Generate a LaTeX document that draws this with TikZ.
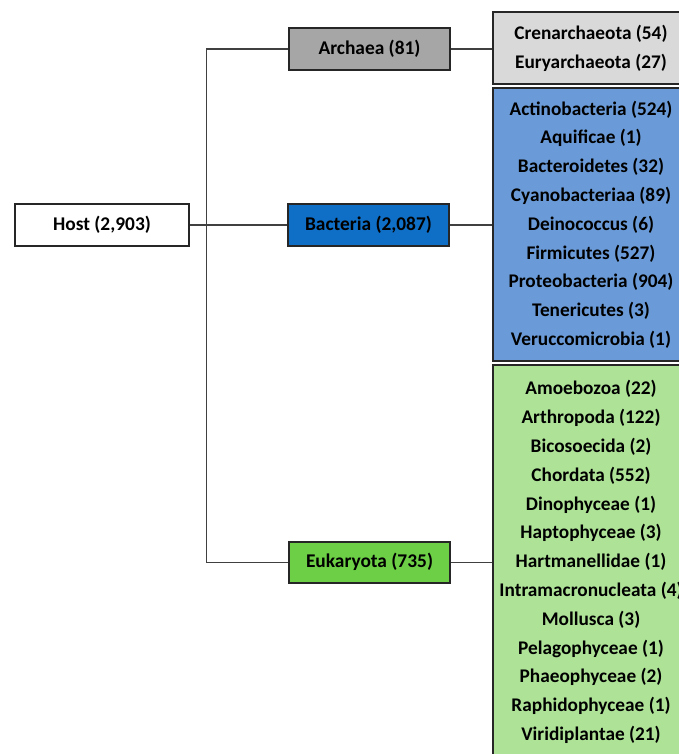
\documentclass[tikz,border=0pt]{standalone}
\usepackage{fontspec}
\setmainfont{Carlito}
\usetikzlibrary{positioning}
\definecolor{archgray}{HTML}{A6A6A6}
\definecolor{archlight}{HTML}{D9D9D9}
\definecolor{bactblue}{HTML}{0F6FC6}
\definecolor{bactlight}{HTML}{6A9BD8}
\definecolor{eukgreen}{HTML}{6CCF45}
\definecolor{euklight}{HTML}{AEE397}
\definecolor{edge}{HTML}{262626}
\tikzstyle{taxon} = [draw=edge, line width=2pt, minimum width=161pt, minimum height=41.5pt, inner sep=0pt, font=\bfseries\fontsize{19.4}{23}\selectfont]
\tikzstyle{phyla} = [draw=edge, line width=2pt, minimum width=195.4pt, inner sep=0pt, align=center, font=\bfseries\fontsize{19.3}{28.8}\selectfont]
\tikzstyle{link} = [draw=black!75, line width=1.5pt]

\begin{document}
\begin{tikzpicture}[x=1pt, y=-1pt]
    \useasboundingbox (0,0) rectangle (678,754);

    \node [taxon, fill=white, minimum width=174.7pt] (host) at (102,224.9) {Host (2,903)};
    \node [taxon, fill=archgray] (archaea) at (369.5,48.8) {Archaea (81)};
    \node [taxon, fill=bactblue] (bacteria) at (368.5,224.9) {Bacteria (2,087)};
    \node [taxon, fill=eukgreen] (eukaryota) at (369.5,562.3) {Eukaryota (735)};

    \node [phyla, fill=archlight, minimum height=72.6pt] (archlist) at (591,48) {
        Crenarchaeota (54)\\ Euryarchaeota (27)
    };
    \node [phyla, fill=bactlight, minimum height=272.4pt] (bactlist) at (591,224.5) {
        Actinobacteria (524)\\ Aquificae (1)\\ Bacteroidetes (32)\\
        Cyanobacteriaa (89)\\ Deinococcus (6)\\ Firmicutes (527)\\
        Proteobacteria (904)\\ Tenericutes (3)\\ Veruccomicrobia (1)
    };
    \node [phyla, fill=euklight, minimum height=394pt] (euklist) at (591,562) {
        Amoebozoa (22)\\ Arthropoda (122)\\ Bicosoecida (2)\\ Chordata (552)\\
        Dinophyceae (1)\\ Haptophyceae (3)\\ Hartmanellidae (1)\\
        Intramacronucleata (4)\\ Mollusca (3)\\ Pelagophyceae (1)\\
        Phaeophyceae (2)\\ Raphidophyceae (1)\\ Viridiplantae (21)
    };

    % tree
    \coordinate (trunk) at (206.5,48.8);
    \draw [link] (host) -- (bacteria);
    \draw [link] (archaea.west) -- (trunk) |- (eukaryota.west);
    \draw [link] (archaea.east) -- (archaea.east -| archlist.west);
    \draw [link] (bacteria.east) -- (bacteria.east -| bactlist.west);
    \draw [link] (eukaryota.east) -- (eukaryota.east -| euklist.west);
\end{tikzpicture}
\end{document}
